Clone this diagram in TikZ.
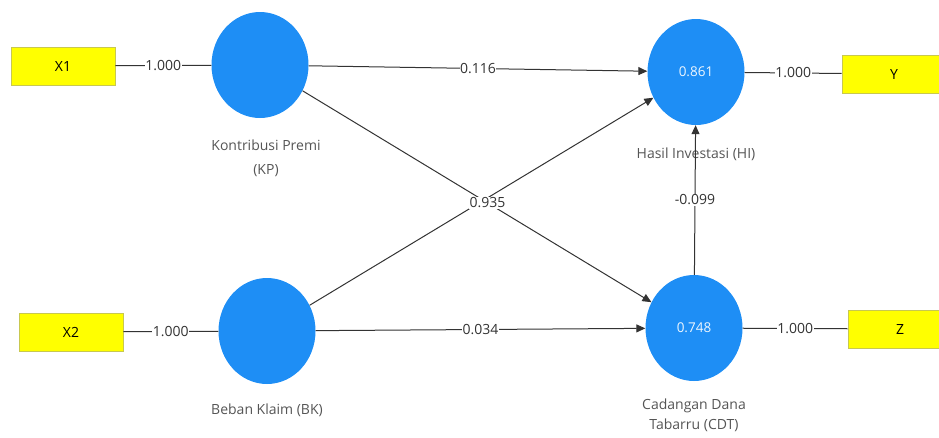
\documentclass[tikz,border=0pt]{standalone}
\usepackage{fontspec}
\setmainfont{Open Sans}
\usetikzlibrary{arrows.meta, shapes.geometric}
\definecolor{lvblue}{HTML}{1E8EF5}
\definecolor{mvyellow}{HTML}{FFFF00}
\definecolor{mvborder}{HTML}{C8C850}
\definecolor{pathgray}{HTML}{333333}
\definecolor{lblgray}{HTML}{555555}

\begin{document}
\begin{tikzpicture}[
    x=1pt, y=-1pt,
    >={Triangle[length=9pt, width=8pt]},
    latent/.style={ellipse, fill=lvblue, minimum width=97pt, minimum height=106pt,
      inner sep=0pt, text=white!92!lvblue, font=\fontsize{13.5}{16}\selectfont},
    indicator/.style={rectangle, fill=mvyellow, draw=mvborder, line width=0.8pt,
      minimum width=104pt, minimum height=38pt, font=\fontsize{14}{16}\selectfont},
    coef/.style={fill=white, inner sep=0.5pt, text=pathgray, font=\fontsize{14}{16}\selectfont},
    lvname/.style={text=lblgray, align=center, font=\fontsize{14}{24}\selectfont},
    link/.style={pathgray, line width=1pt},
  ]

  % ══════════════════════════════════════════════════════
  % Canvas
  % ══════════════════════════════════════════════════════
  \useasboundingbox (0,0) rectangle (939,437);
  \clip (0,0) rectangle (939,437);

  % ══════════════════════════════════════════════════════
  % Latent variables
  % ══════════════════════════════════════════════════════
  \node[latent] (KP)  at (260,65)  {};
  \node[latent] (BK)  at (267,331) {};
  \node[latent] (HI)  at (696,72)  {0.861};
  \node[latent] (CDT) at (694,328) {0.748};

  % names below the circles
  \node[lvname] (KPname)  at (266,158) {Kontribusi Premi\\(KP)};
  \node[lvname] (HIname)  at (696,154) {Hasil Investasi (HI)};
  \node[lvname] (BKname)  at (267,410) {Beban Klaim (BK)};
  \node[lvname, font=\fontsize{14}{20}\selectfont]
    (CDTname) at (694,415) {Cadangan Dana\\Tabarru (CDT)};

  % ══════════════════════════════════════════════════════
  % Indicators
  % ══════════════════════════════════════════════════════
  \node[indicator] (X1) at (63,66)   {X1};
  \node[indicator] (X2) at (71,332)  {X2};
  \node[indicator] (Y)  at (894,74)  {Y};
  \node[indicator] (Z)  at (900,329) {Z};

  % ══════════════════════════════════════════════════════
  % Outer loadings
  % ══════════════════════════════════════════════════════
  \draw[link] (X1) -- (KP)  node[coef, midway] {1.000};
  \draw[link] (X2) -- (BK)  node[coef, midway] {1.000};
  \draw[link] (HI) -- (Y)   node[coef, midway] {1.000};
  \draw[link] (CDT) -- (Z)  node[coef, midway] {1.000};

  % ══════════════════════════════════════════════════════
  % Inner path coefficients
  % ══════════════════════════════════════════════════════
  \draw[link, ->] (BK) -- (HI);
  \draw[link, ->] (KP) -- (HI)  node[coef, midway] {0.116};
  \draw[link, ->] (BK) -- (CDT) node[coef, midway] {0.034};
  \draw[link, ->] (KP) -- (CDT) node[coef, pos=0.53] {0.935};
  \draw[link, ->] (CDT) -- (HI) node[coef, midway] {-0.099};

\end{tikzpicture}
\end{document}
